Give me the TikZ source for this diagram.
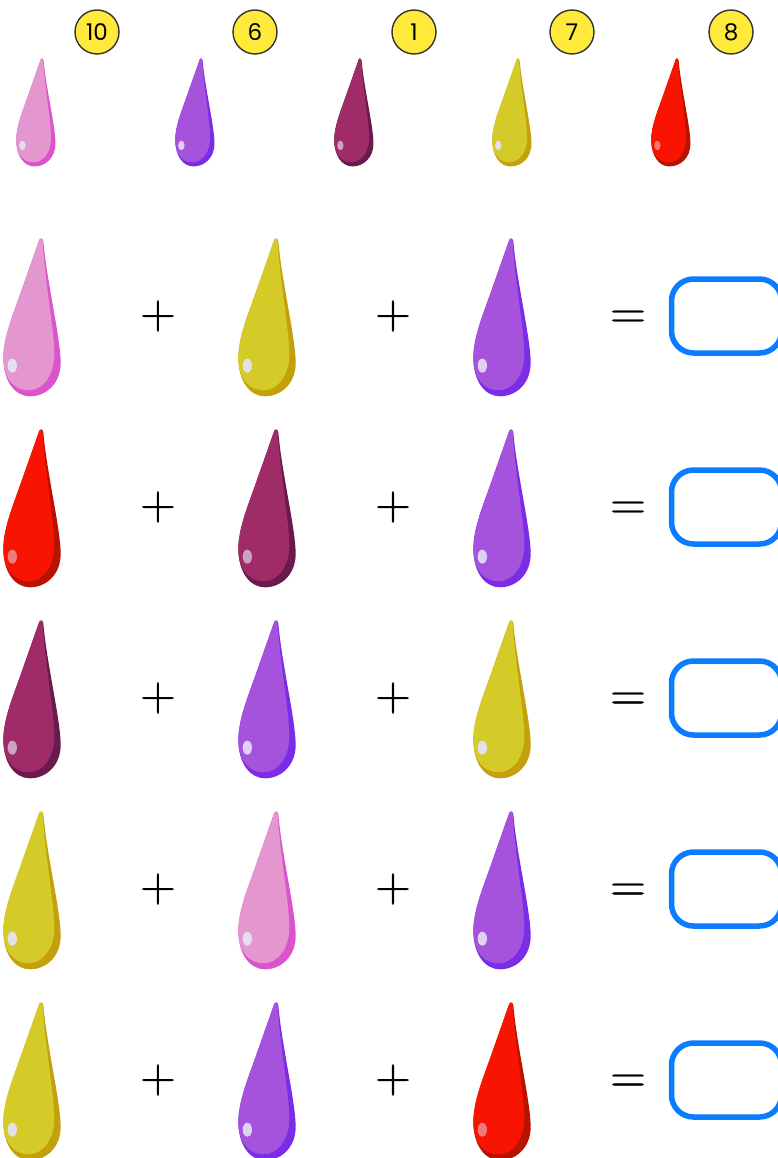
\documentclass[tikz,border=0pt]{standalone}
\usepackage{fontspec}
\newfontfamily\numfont{Poppins}
\newfontfamily\opfont[FakeBold=0.6]{Latin Modern Roman}
\definecolor{pinkA}{HTML}{E496CE}\definecolor{pinkB}{HTML}{DB54CC}
\definecolor{purpA}{HTML}{A553DD}\definecolor{purpB}{HTML}{7B2CE6}
\definecolor{plumA}{HTML}{9F2B68}\definecolor{plumB}{HTML}{6A1B4D}
\definecolor{yelA}{HTML}{D4CB28}\definecolor{yelB}{HTML}{C4A00C}
\definecolor{redA}{HTML}{F81400}\definecolor{redB}{HTML}{B81200}
\definecolor{badge}{HTML}{FFE93B}\definecolor{answer}{HTML}{0A7CFF}
\definecolor{shine}{HTML}{E4E2F4}
\def\hlpink{.95}\def\hlpurp{.9}\def\hlplum{.65}\def\hlyel{.95}\def\hlred{.5}
\newcommand{\dropat}[4]{% x, y (tip, px), scale factor, colour stem
\begin{scope}[shift={(#1,#2)},x=#3*0.3333pt,y=-#3*0.3333pt]
\fill[#4B] (-5,5) -- (-63,170) .. controls (-85,232) and (-113,300) .. (-113,360)
 .. controls (-113,430) and (-78,475) .. (-33,475)
 .. controls (17,475) and (59,435) .. (59,375)
 .. controls (59,300) and (17,130) .. (7,10)
 .. controls (5,0) and (-3,-2) .. (-5,5) -- cycle;
\fill[#4A] (-5,5) -- (-63,170) .. controls (-85,232) and (-113,300) .. (-113,360)
 .. controls (-113,420) and (-82,457) .. (-38,457)
 .. controls (7,457) and (40,410) .. (40,350)
 .. controls (40,280) and (12,130) .. (5,10)
 .. controls (3,0) and (-3,-2) .. (-5,5) -- cycle;
\fill[shine,opacity=\csname hl#4\endcsname] (-86,383) ellipse [x radius=14,y radius=21];
\end{scope}}
\tikzset{
 badgecirc/.style={circle,draw=black!80,line width=1.4pt,fill=badge,minimum size=44pt,inner sep=0pt,font=\numfont\fontsize{23}{23}\selectfont},
 opsign/.style={anchor=base,inner sep=0pt,font=\opfont\fontsize{50}{50}\selectfont},
 ansbox/.style={draw=answer,line width=5.5pt,rounded corners=22pt,fill=white,minimum width=110pt,minimum height=74pt,inner sep=0pt},
}
\begin{document}
\begin{tikzpicture}[x=1pt,y=-1pt]
\useasboundingbox (0,0) rectangle (777,1158);
\foreach \cx/\n/\tipx/\c in {97/10/42/pink,255/6/201/purp,414/1/360/plum,572/7/518/yel,731/8/677/red}{
  \node[badgecirc] (b\n) at (\cx,32) {\n};
  \dropat{\tipx}{58}{0.685}{\c}
}
\foreach \r/\y/\a/\b/\c in {1/238/pink/yel/purp,2/429/red/plum/purp,3/620/plum/purp/yel,4/811/yel/pink/purp,5/1002/yel/purp/red}{
  \dropat{41}{\y}{1}{\a}
  \dropat{276}{\y}{1}{\b}
  \dropat{511}{\y}{1}{\c}
  \node[opsign] (pa\r) at (158,\y+90.5) {+};
  \node[opsign] (pb\r) at (393,\y+90.5) {+};
  \node[opsign] (eq\r) at (628,\y+90.5) {=};
  \node[ansbox] (box\r) at (726.5,\y+78) {};
}
\end{tikzpicture}
\end{document}
